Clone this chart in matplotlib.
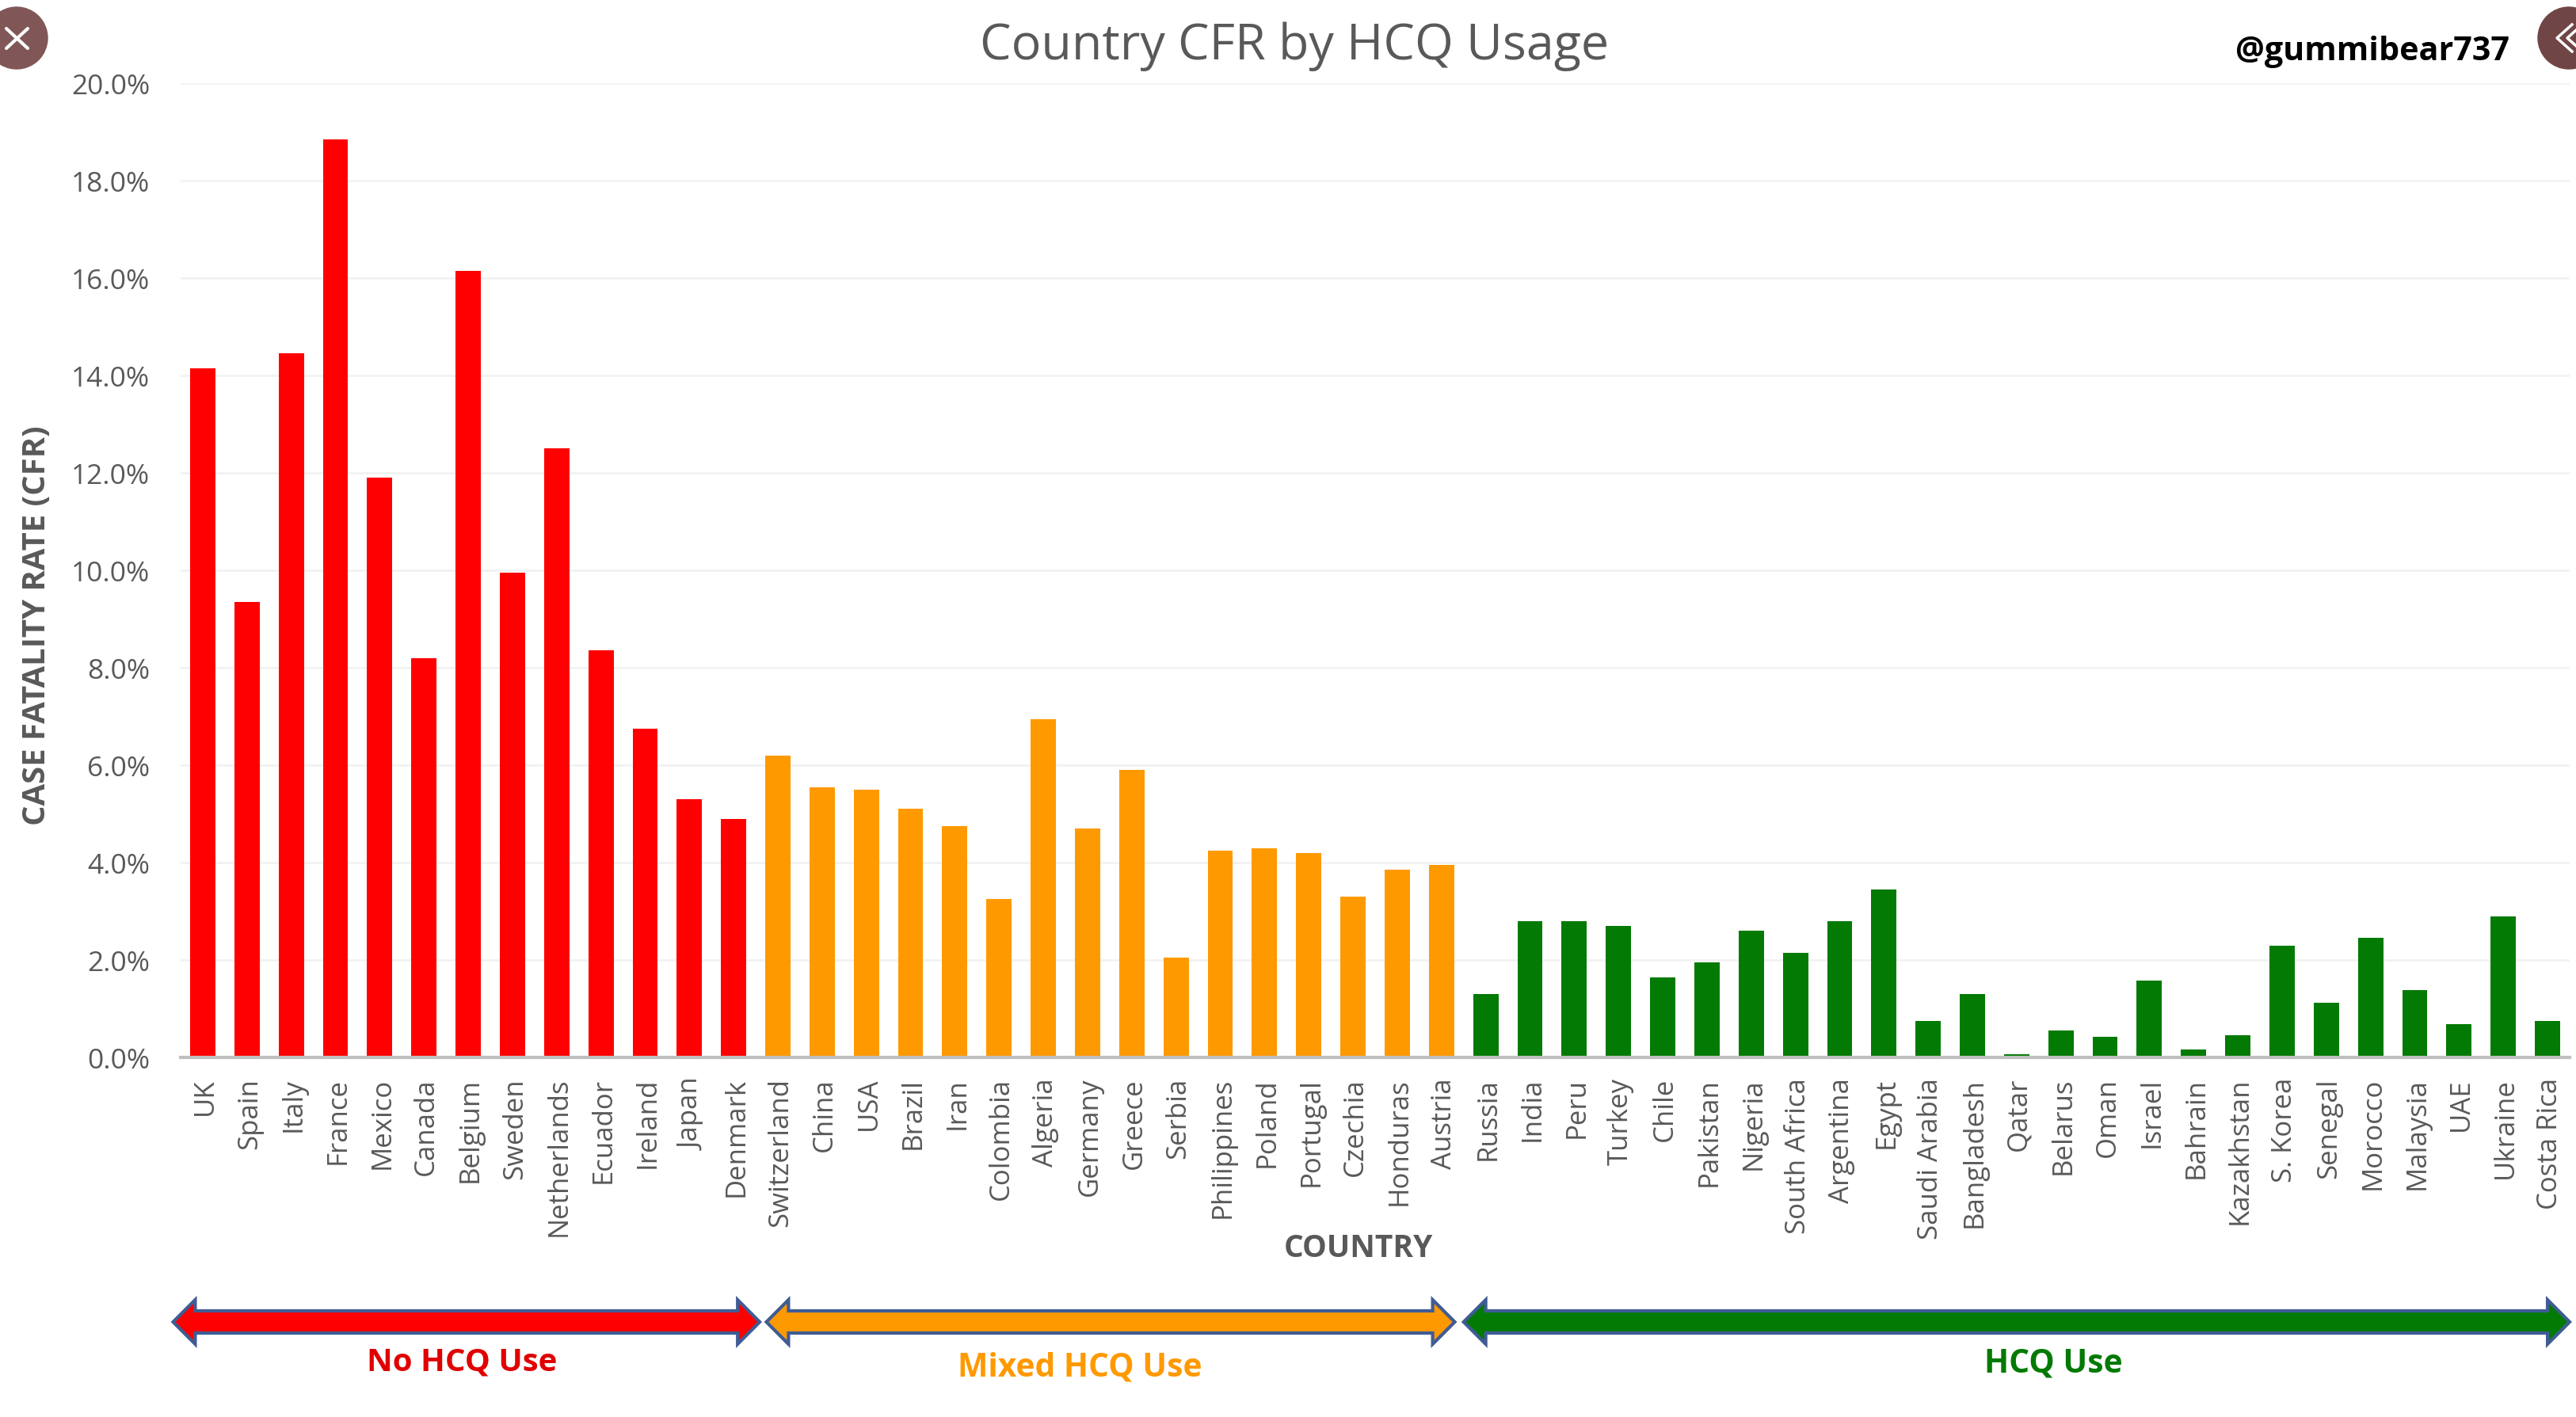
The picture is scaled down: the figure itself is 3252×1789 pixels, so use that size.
import matplotlib
matplotlib.use("Agg")
import matplotlib.pyplot as plt
from matplotlib.patches import Polygon, Circle
from matplotlib.transforms import blended_transform_factory, ScaledTranslation

plt.rcParams['font.family'] = ['Open Sans', 'DejaVu Sans']

# Countries and case fatality rate (%) for each HCQ group
no_hcq_countries = ['UK', 'Spain', 'Italy', 'France', 'Mexico', 'Canada', 'Belgium', 'Sweden',
                    'Netherlands', 'Ecuador', 'Ireland', 'Japan', 'Denmark']
no_hcq_cfr = [14.15, 9.35, 14.45, 18.85, 11.9, 8.2, 16.15, 9.95, 12.5, 8.35, 6.75, 5.3, 4.9]

mixed_countries = ['Switzerland', 'China', 'USA', 'Brazil', 'Iran', 'Colombia', 'Algeria', 'Germany',
                   'Greece', 'Serbia', 'Philippines', 'Poland', 'Portugal', 'Czechia', 'Honduras', 'Austria']
mixed_cfr = [6.2, 5.55, 5.5, 5.1, 4.75, 3.25, 6.95, 4.7, 5.9, 2.05, 4.25, 4.3, 4.2, 3.3, 3.85, 3.95]

hcq_countries = ['Russia', 'India', 'Peru', 'Turkey', 'Chile', 'Pakistan', 'Nigeria', 'South Africa',
                 'Argentina', 'Egypt', 'Saudi Arabia', 'Bangladesh', 'Qatar', 'Belarus', 'Oman', 'Israel',
                 'Bahrain', 'Kazakhstan', 'S. Korea', 'Senegal', 'Morocco', 'Malaysia', 'UAE', 'Ukraine',
                 'Costa Rica']
hcq_cfr = [1.3, 2.8, 2.8, 2.7, 1.65, 1.95, 2.6, 2.15, 2.8, 3.45, 0.75, 1.3, 0.07, 0.55, 0.42, 1.57,
           0.17, 0.45, 2.3, 1.12, 2.45, 1.38, 0.68, 2.9, 0.75]

y_ticks = [0, 2, 4, 6, 8, 10, 12, 14, 16, 18, 20]

RED = '#FF0000'
ORANGE = '#FF9900'
GREEN = '#037A03'
GREY = '#595959'
ARROW_EDGE = '#3F5C94'

W, H = 3252, 1790
fig = plt.figure(figsize=(W / 100, H / 100), dpi=100, facecolor='white')
ax = fig.add_axes([228 / W, 1 - 1336 / H, (3244 - 228) / W, (1336 - 106) / H])

countries = no_hcq_countries + mixed_countries + hcq_countries
values = no_hcq_cfr + mixed_cfr + hcq_cfr
colors = [RED] * len(no_hcq_cfr) + [ORANGE] * len(mixed_cfr) + [GREEN] * len(hcq_cfr)

ax.set_axisbelow(True)
ax.bar(range(len(values)), values, width=0.57, color=colors)

ax.set_xlim(-0.5, len(values) - 0.5)
ax.set_ylim(0, 20)
ax.set_yticks(y_ticks)
ax.set_yticklabels([f"{t:.1f}%" for t in y_ticks], fontsize=25.5, color=GREY)
ax.set_xticks(range(len(values)))
ax.set_xticklabels(countries, rotation=90, fontsize=25, color=GREY)
ax.tick_params(axis='x', length=0, pad=18)
ax.tick_params(axis='y', length=0, pad=28)
ax.grid(axis='y', color='#F2F2F2', linewidth=2)
for side in ['top', 'right', 'left']:
    ax.spines[side].set_visible(False)
ax.spines['bottom'].set_color('#BFBFBF')
ax.spines['bottom'].set_linewidth(3)

# Nudge the rotated labels to sit right under their bars
label_shift = ScaledTranslation(3 / 100, 0, fig.dpi_scale_trans)
for label in ax.get_xticklabels():
    label.set_transform(label.get_transform() + label_shift)


def to_fig(px_y):
    return 1 - px_y / H


# Titles and axis labels
fig.text(1634 / W, to_fig(59), 'Country CFR by HCQ Usage', fontsize=45.2, color=GREY,
         ha='center', va='center', fontweight='medium')
fig.text(2995 / W, to_fig(66), '@gummibear737', fontsize=29.7, color='black',
         ha='center', va='center', fontweight='bold')
fig.text(47 / W, to_fig(790), 'CASE FATALITY RATE (CFR)', fontsize=28.8, color=GREY,
         rotation=90, ha='center', va='center', fontweight='bold')
fig.text(1715 / W, to_fig(1577), 'COUNTRY', fontsize=28, color=GREY,
         ha='center', va='center', fontweight='bold')


# Double headed arrows below the axis, x in category units and y in figure units
arrow_trans = blended_transform_factory(ax.transData, fig.transFigure)


def draw_arrow(x0, x1, color):
    yc = 1670
    shaft = 14
    head = 28
    hl = 0.5
    pts = [(x0, yc), (x0 + hl, yc - head), (x0 + hl, yc - shaft), (x1 - hl, yc - shaft),
           (x1 - hl, yc - head), (x1, yc), (x1 - hl, yc + head), (x1 - hl, yc + shaft),
           (x0 + hl, yc + shaft), (x0 + hl, yc + head)]
    pts = [(x, to_fig(y)) for x, y in pts]
    fig.add_artist(Polygon(pts, closed=True, facecolor=color, edgecolor=ARROW_EDGE,
                           linewidth=3, transform=arrow_trans, clip_on=False))


draw_arrow(-0.67, 12.59, RED)
draw_arrow(12.74, 28.3, ORANGE)
draw_arrow(28.5, 53.5, GREEN)

fig.text(583 / W, to_fig(1720), 'No HCQ Use', fontsize=29, color='#E00000',
         ha='center', va='center', fontweight='bold')
fig.text(1363 / W, to_fig(1727), 'Mixed HCQ Use', fontsize=29.3, color=ORANGE,
         ha='center', va='center', fontweight='bold')
fig.text(2592 / W, to_fig(1722), 'HCQ Use', fontsize=29.3, color=GREEN,
         ha='center', va='center', fontweight='bold')

# Viewer buttons in the top corners, drawn in pixel coordinates
overlay = fig.add_axes([0, 0, 1, 1], facecolor='none')
overlay.set_xlim(0, W)
overlay.set_ylim(H, 0)
overlay.axis('off')
overlay.add_patch(Circle((21, 49), 39, color='#805656'))
overlay.add_patch(Circle((3243, 49), 39, color='#704545'))
overlay.plot([8, 35], [37, 62], color='white', linewidth=3, solid_capstyle='round')
overlay.plot([8, 35], [62, 37], color='white', linewidth=3, solid_capstyle='round')
overlay.plot([3247, 3228, 3247], [32, 49, 66], color='white', linewidth=2.5)
overlay.plot([3260, 3241, 3260], [32, 49, 66], color='white', linewidth=2.5)

plt.savefig('out.png', dpi=100)
